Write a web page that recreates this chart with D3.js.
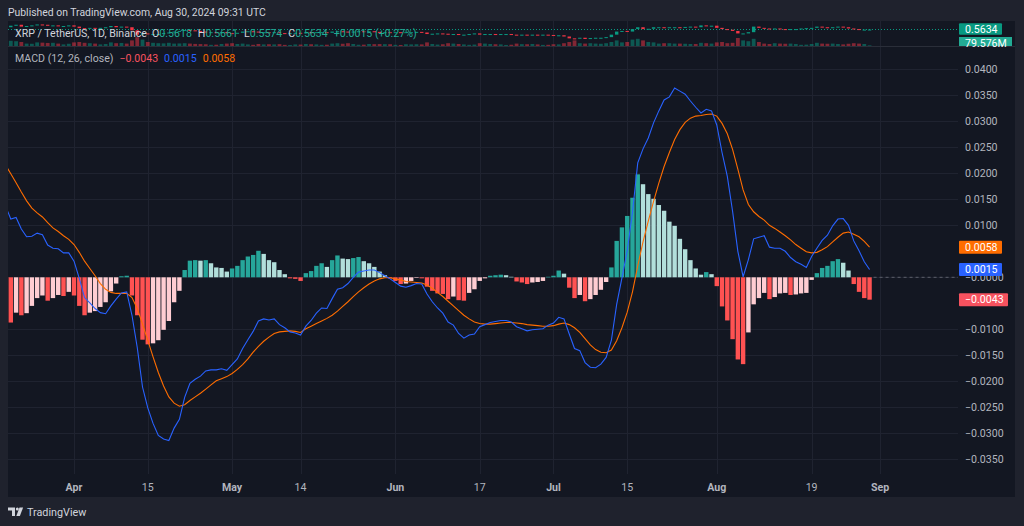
<!DOCTYPE html>
<html><head><meta charset="utf-8">
<script src="https://cdn.jsdelivr.net/npm/d3@7"></script>
<style>html,body{margin:0;padding:0;background:#1f222d;overflow:hidden}svg{display:block}</style>
</head><body><svg id="c" width="1024" height="526"></svg>
<script>
// ---------- DATA ----------
const startDay = "2024-03-19"; // first (partly hidden) daily bar
const histogram = [-0.0079,
-0.0087,-0.0068,-0.0073,-0.0069,-0.0055,-0.0040,-0.0035,-0.0045,-0.0040,-0.0034,
-0.0036,-0.0028,-0.0035,-0.0055,-0.0073,-0.0068,-0.0065,-0.0057,-0.0048,-0.0027,
-0.0012,0.0002,0.0003,-0.0035,-0.0073,-0.0120,-0.0129,-0.0127,-0.0121,-0.0101,
-0.0084,-0.0048,-0.0026,0.0014,0.0032,0.0033,0.0032,0.0033,0.0027,0.0019,
0.0018,0.0011,0.0017,0.0022,0.0033,0.0040,0.0043,0.0051,0.0045,0.0033,
0.0029,0.0014,0.0006,-0.0002,-0.0003,-0.0007,0.0008,0.0012,0.0022,0.0027,
0.0020,0.0033,0.0042,0.0036,0.0035,0.0037,0.0039,0.0031,0.0027,0.0020,
0.0011,0.0004,-0.0002,-0.0007,-0.0013,-0.0012,-0.0007,-0.0001,-0.0002,-0.0018,
-0.0026,-0.0031,-0.0032,-0.0042,-0.0037,-0.0044,-0.0045,-0.0030,-0.0023,-0.0007,
-0.0002,0.0003,0.0004,0.0005,0.0004,0.0001,-0.0008,-0.0010,-0.0013,-0.0010,
-0.0009,-0.0007,0.0001,0.0003,0.0013,0.0007,-0.0020,-0.0040,-0.0034,-0.0046,
-0.0042,-0.0034,-0.0024,-0.0009,0.0019,0.0070,0.0096,0.0118,0.0153,0.0198,
0.0179,0.0160,0.0151,0.0139,0.0128,0.0107,0.0099,0.0074,0.0054,0.0033,
0.0017,0.0005,0.0010,0.0006,-0.0017,-0.0056,-0.0083,-0.0119,-0.0158,-0.0167,
-0.0106,-0.0052,-0.0040,-0.0030,-0.0042,-0.0038,-0.0031,-0.0030,-0.0034,-0.0033,
-0.0031,-0.0030,-0.0005,0.0008,0.0018,0.0022,0.0031,0.0035,0.0028,0.0013,
-0.0013,-0.0028,-0.0040,-0.0043];
const macdLine = [0.0137,
0.0112,0.0115,0.0093,0.0078,0.0079,0.0085,0.0082,0.0062,0.0056,0.0055,
0.0047,0.0047,0.0031,-0.0002,-0.0039,-0.0049,-0.0060,-0.0068,-0.0070,-0.0055,
-0.0042,-0.0030,-0.0028,-0.0073,-0.0135,-0.0211,-0.0251,-0.0281,-0.0304,-0.0311,
-0.0314,-0.0290,-0.0273,-0.0231,-0.0204,-0.0196,-0.0190,-0.0180,-0.0178,-0.0178,
-0.0176,-0.0179,-0.0168,-0.0157,-0.0137,-0.0120,-0.0104,-0.0084,-0.0080,-0.0082,
-0.0080,-0.0091,-0.0097,-0.0105,-0.0107,-0.0111,-0.0094,-0.0083,-0.0069,-0.0059,
-0.0060,-0.0041,-0.0023,-0.0020,-0.0012,0.0000,0.0010,0.0012,0.0014,0.0014,
0.0009,0.0003,-0.0003,-0.0010,-0.0017,-0.0019,-0.0016,-0.0012,-0.0013,-0.0032,
-0.0047,-0.0059,-0.0069,-0.0086,-0.0092,-0.0108,-0.0117,-0.0111,-0.0109,-0.0095,
-0.0091,-0.0087,-0.0085,-0.0083,-0.0083,-0.0086,-0.0095,-0.0099,-0.0103,-0.0101,
-0.0100,-0.0099,-0.0092,-0.0088,-0.0077,-0.0080,-0.0109,-0.0137,-0.0141,-0.0164,
-0.0173,-0.0174,-0.0167,-0.0154,-0.0121,-0.0052,-0.0001,0.0051,0.0125,0.0220,
0.0247,0.0268,0.0297,0.0320,0.0341,0.0347,0.0364,0.0358,0.0352,0.0339,
0.0327,0.0316,0.0323,0.0320,0.0293,0.0240,0.0194,0.0127,0.0050,0.0001,
0.0034,0.0074,0.0077,0.0080,0.0058,0.0056,0.0056,0.0050,0.0038,0.0030,
0.0025,0.0019,0.0040,0.0056,0.0071,0.0081,0.0099,0.0112,0.0113,0.0100,
0.0070,0.0051,0.0030,0.0015];
const signalLine = [0.0216,
0.0199,0.0182,0.0164,0.0147,0.0133,0.0124,0.0116,0.0105,0.0095,0.0088,
0.0080,0.0073,0.0063,0.0048,0.0031,0.0017,0.0003,-0.0012,-0.0023,-0.0029,
-0.0031,-0.0031,-0.0031,-0.0039,-0.0060,-0.0090,-0.0121,-0.0153,-0.0183,-0.0209,
-0.0230,-0.0242,-0.0248,-0.0245,-0.0237,-0.0230,-0.0223,-0.0215,-0.0207,-0.0199,
-0.0195,-0.0191,-0.0185,-0.0177,-0.0168,-0.0157,-0.0144,-0.0133,-0.0123,-0.0115,
-0.0108,-0.0105,-0.0104,-0.0103,-0.0104,-0.0106,-0.0099,-0.0094,-0.0089,-0.0084,
-0.0079,-0.0073,-0.0065,-0.0056,-0.0047,-0.0037,-0.0028,-0.0020,-0.0013,-0.0007,
-0.0003,-0.0001,-0.0001,-0.0003,-0.0005,-0.0008,-0.0009,-0.0010,-0.0011,-0.0015,
-0.0021,-0.0029,-0.0037,-0.0046,-0.0055,-0.0064,-0.0073,-0.0080,-0.0086,-0.0089,
-0.0090,-0.0090,-0.0089,-0.0088,-0.0087,-0.0087,-0.0088,-0.0089,-0.0091,-0.0092,
-0.0093,-0.0094,-0.0094,-0.0093,-0.0090,-0.0088,-0.0091,-0.0097,-0.0106,-0.0118,
-0.0130,-0.0139,-0.0144,-0.0145,-0.0140,-0.0122,-0.0097,-0.0067,-0.0028,0.0022,
0.0068,0.0108,0.0146,0.0181,0.0213,0.0240,0.0265,0.0284,0.0298,0.0306,
0.0310,0.0311,0.0313,0.0314,0.0310,0.0296,0.0276,0.0246,0.0208,0.0168,
0.0140,0.0126,0.0117,0.0110,0.0100,0.0094,0.0087,0.0080,0.0072,0.0063,
0.0056,0.0049,0.0047,0.0048,0.0053,0.0059,0.0068,0.0077,0.0085,0.0087,
0.0083,0.0078,0.0069,0.0058];
// price pane (XRP/USDT daily closes, volume in millions)
const closes = [0.600,
0.625,0.640,0.610,0.620,0.630,0.645,0.640,0.625,0.630,0.615,0.620,0.630,
0.610,0.585,0.580,0.590,0.585,0.590,0.600,0.620,0.600,0.610,0.600,0.550,0.480,0.500,0.490,0.490,0.490,0.505,0.515,0.530,0.540,0.555,0.550,0.540,0.530,0.520,0.520,0.515,0.520,0.505,
0.500,0.510,0.530,0.535,0.530,0.520,0.520,0.510,0.520,0.505,0.500,0.505,0.510,0.500,0.520,0.510,0.520,0.520,0.510,0.530,0.535,0.530,0.525,0.530,0.535,0.530,0.535,0.525,0.520,0.520,0.515,
0.520,0.515,0.520,0.520,0.525,0.515,0.490,0.495,0.500,0.495,0.480,0.490,0.480,0.480,0.490,0.500,0.480,0.490,0.490,0.485,0.490,0.490,0.480,0.475,0.480,0.470,0.480,0.475,0.480,0.475,
0.470,0.470,0.450,0.420,0.415,0.430,0.410,0.425,0.430,0.430,0.440,0.480,0.530,0.540,0.530,0.570,0.600,0.570,0.575,0.600,0.600,0.595,0.600,0.600,0.595,0.605,0.610,0.600,0.630,0.620,0.625,
0.590,0.570,0.560,0.540,0.500,0.500,0.520,0.610,0.590,0.580,0.570,0.580,0.570,0.560,0.570,0.570,0.580,0.585,0.590,0.610,0.600,0.590,0.600,0.610,0.600,0.580,0.570,0.560,0.5618,0.5634];
const volumes = [700,
650,600,500,300,280,450,420,380,400,300,200,280,
450,500,400,350,300,200,250,450,350,380,300,700,1100,800,500,400,350,330,400,300,320,350,300,260,240,220,150,160,250,300,
350,250,300,200,150,250,200,220,200,230,140,130,200,180,250,220,200,150,160,300,350,280,350,250,160,170,250,230,240,230,220,
150,130,220,200,220,200,450,250,180,220,350,300,250,200,150,180,350,300,250,220,200,130,160,300,230,220,250,200,140,150,
220,200,350,500,700,350,300,350,300,280,350,500,700,450,500,800,900,700,500,450,300,350,350,300,300,280,250,250,400,350,300,
450,500,350,400,1000,700,600,900,500,300,250,350,300,280,300,250,150,170,250,400,300,280,300,250,200,280,350,300,250,79.576];
const yTicks = [0.04,0.035,0.03,0.025,0.02,0.015,0.01,0,-0.01,-0.015,-0.02,-0.025,-0.03,-0.035];
const timeTickDates = ["2024-04-01","2024-04-15","2024-05-01","2024-05-14","2024-06-01","2024-06-17","2024-07-01","2024-07-15","2024-08-01","2024-08-19","2024-09-01"];
const timeTickLabels = ["Apr","15","May","14","Jun","17","Jul","15","Aug","19","Sep"];
const legendValues = {hist:"\u22120.0043", macd:"0.0015", signal:"0.0058"};
const ohlc = [["O","0.5618"],["H","0.5661"],["L","0.5574"],["C","0.5634"]];

// ---------- LAYOUT ----------
const FONT = "Roboto, 'Noto Sans', sans-serif";
const svg = d3.select("#c");
const chart = {l:8, r:1015, t:21, b:497};
const pane = {l:8, r:958, t:47, b:474};
const pricePane = {t:21, b:46};
const C = {bg:"#131722", grid:"#1f2330", text:"#b2b5be", light:"#d1d4dc",
  up:"#26a69a", upFall:"#b2dfdb", dn:"#ff5252", dnRise:"#ffcdd2", macd:"#2962ff", sig:"#ff6d00",
  cUp:"#089981", cDn:"#f23645"};

const parse = s => new Date(s + "T00:00:00Z");
const t0 = parse(startDay);
const dates = histogram.map((_, i) => d3.utcDay.offset(t0, i));

const x = d3.scaleUtc().domain([parse("2024-03-20"), parse("2024-09-01")]).range([10.8, 880.1]);
const y = d3.scaleLinear().domain([-0.035, 0.04]).range([459.3, 69.3]);
const yp = d3.scaleLinear().domain([0.40, 0.5634]).range([39.6, 29.5]);
const yv = d3.scaleLinear().domain([0, 1000]).range([46, 38]);

svg.append("rect").attr("width",1024).attr("height",526).attr("fill","#1f222d");
svg.append("rect").attr("x",chart.l).attr("y",chart.t).attr("width",chart.r-chart.l).attr("height",chart.b-chart.t).attr("fill",C.bg);

// header
svg.append("text").attr("x",8).attr("y",12.5).attr("dy","0.35em").attr("fill",C.light).attr("font-family",FONT).attr("font-size",10.4)
  .text("Published on TradingView.com, Aug 30, 2024 09:31 UTC");

const defs = svg.append("defs");
defs.append("clipPath").attr("id","paneClip").append("rect")
  .attr("x",pane.l).attr("y",pane.t).attr("width",pane.r-pane.l).attr("height",pane.b-pane.t);
defs.append("clipPath").attr("id","priceClip").append("rect")
  .attr("x",pane.l).attr("y",pricePane.t).attr("width",pane.r-pane.l).attr("height",pricePane.b-pricePane.t);

// grid
const g = svg.append("g");
g.selectAll(".hg").data(yTicks).join("line")
  .attr("x1",pane.l).attr("x2",pane.r).attr("y1",d=>Math.round(y(d))+0.5).attr("y2",d=>Math.round(y(d))+0.5)
  .attr("stroke",C.grid);
g.selectAll(".vg").data(timeTickDates).join("line")
  .attr("x1",d=>Math.round(x(parse(d)))+0.5).attr("x2",d=>Math.round(x(parse(d)))+0.5)
  .attr("y1",pricePane.t).attr("y2",pane.b).attr("stroke",C.grid);

// pane separator
svg.append("line").attr("x1",chart.l).attr("x2",chart.r).attr("y1",46.5).attr("y2",46.5).attr("stroke","#2a2e39");

// ---- price pane: volume + candles ----
const priceG = svg.append("g").attr("clip-path","url(#priceClip)");
const isUp = i => i === 0 ? true : closes[i] >= closes[i-1];
priceG.selectAll(".vol").data(volumes).join("rect")
  .attr("x",(d,i)=>x(dates[i])-1.9).attr("width",3.8)
  .attr("y",d=>yv(d)).attr("height",d=>yv(0)-yv(d))
  .attr("fill",(d,i)=>isUp(i) ? "rgba(8,153,129,0.5)" : "rgba(242,54,69,0.5)");
priceG.append("line").attr("x1",pane.l).attr("x2",pane.r).attr("y1",yp(closes[closes.length-1])).attr("y2",yp(closes[closes.length-1]))
  .attr("stroke",C.cUp).attr("stroke-dasharray","1,2");
priceG.selectAll(".cdl").data(closes).join("rect")
  .attr("x",(d,i)=>x(dates[i])-1.7).attr("width",3.4)
  .attr("y",(d,i)=>Math.min(yp(d), yp(i?closes[i-1]:d)))
  .attr("height",(d,i)=>Math.max(1, Math.abs(yp(d)-yp(i?closes[i-1]:d))))
  .attr("fill",(d,i)=>isUp(i) ? C.cUp : C.cDn);

// histogram
const plot = svg.append("g").attr("clip-path","url(#paneClip)");
const colorOf = (h, i) => {
  const prev = i > 0 ? histogram[i-1] : h;
  if (h >= 0) return prev < h ? C.up : C.upFall;
  return prev < h ? C.dnRise : C.dn;
};
const bw = 4.4;
plot.selectAll(".bar").data(histogram).join("rect")
  .attr("x",(d,i)=>x(dates[i])-bw/2).attr("width",bw)
  .attr("y",d=>Math.min(y(0),y(d))).attr("height",d=>Math.max(0.6,Math.abs(y(d)-y(0))))
  .attr("fill",(d,i)=>colorOf(d,i));

// zero price line (dashed) after last bar
const lastX = x(dates[dates.length-1]);
svg.append("line").attr("x1",lastX+4).attr("x2",pane.r).attr("y1",y(0)).attr("y2",y(0))
  .attr("stroke","#5d606b").attr("stroke-dasharray","3,3");

// lines
const line = arr => d3.line().x((d,i)=>x(dates[i])).y(d=>y(d))(arr);
plot.append("path").attr("d",line(signalLine)).attr("fill","none").attr("stroke",C.sig).attr("stroke-width",1.1);
plot.append("path").attr("d",line(macdLine)).attr("fill","none").attr("stroke",C.macd).attr("stroke-width",1.1);

// y axis labels
const fmt = v => (v <= 0 ? "\u2212" : "") + Math.abs(v).toFixed(4);
svg.selectAll(".yl").data(yTicks).join("text")
  .attr("x",965).attr("y",d=>y(d)).attr("dy","0.35em")
  .attr("fill",C.text).attr("font-family",FONT).attr("font-size",10.6).text(fmt);

// value boxes
const box = (val, txt, col, w) => {
  const cy = y(val);
  svg.append("rect").attr("x",959).attr("y",cy-6.5).attr("width",w).attr("height",13).attr("fill",col).attr("rx",1);
  svg.append("text").attr("x",965).attr("y",cy).attr("dy","0.35em").attr("fill","#ffffff")
    .attr("font-family",FONT).attr("font-size",10.6).text(txt);
};
box(signalLine[signalLine.length-1], legendValues.signal, C.sig, 43);
box(macdLine[macdLine.length-1], legendValues.macd, C.macd, 43);
box(histogram[histogram.length-1], legendValues.hist, "#f7525f", 49);

// time axis
svg.selectAll(".tl").data(timeTickDates).join("text")
  .attr("x",d=>x(parse(d))).attr("y",487).attr("dy","0.35em").attr("text-anchor","middle")
  .attr("fill",C.text).attr("font-family",FONT).attr("font-size",10.6)
  .attr("font-weight",(d,i)=>isNaN(+timeTickLabels[i]) ? 700 : 400)
  .text((d,i)=>timeTickLabels[i]);

// MACD legend
const lg = svg.append("text").attr("x",15).attr("y",58).attr("dy","0.35em").attr("font-family",FONT).attr("font-size",10.6);
lg.append("tspan").attr("fill",C.text).text("MACD (12, 26, close)");
lg.append("tspan").attr("fill","#f7525f").attr("dx",6).text(legendValues.hist);
lg.append("tspan").attr("fill",C.macd).attr("dx",6).text(legendValues.macd);
lg.append("tspan").attr("fill",C.sig).attr("dx",6).text(legendValues.signal);

// price pane legend
const tl = svg.append("text").attr("x",15).attr("y",33).attr("dy","0.35em").attr("font-family",FONT).attr("font-size",10.6);
tl.append("tspan").attr("fill",C.light).text("XRP / TetherUS, 1D, Binance");
ohlc.forEach(([k,v],i)=>{
  tl.append("tspan").attr("fill",C.light).attr("dx",i===0?5:6).text(k);
  tl.append("tspan").attr("fill","#22ab94").text(v);
});
tl.append("tspan").attr("fill","#22ab94").attr("dx",6).text("+0.0015 (+0.27%)");

// price pane labels
svg.append("rect").attr("x",959).attr("y",23.3).attr("width",43).attr("height",11.5).attr("fill",C.cUp).attr("rx",1);
svg.append("text").attr("x",965).attr("y",29).attr("dy","0.35em").attr("fill","#fff").attr("font-family",FONT).attr("font-size",10.6).text("0.5634");
svg.append("rect").attr("x",959).attr("y",37).attr("width",53).attr("height",9).attr("fill","#22ab94");
svg.append("text").attr("x",965).attr("y",43).attr("dy","0.35em").attr("fill","#fff").attr("font-family",FONT).attr("font-size",10.6)
  .text((volumes[volumes.length-1]).toFixed(3) + "M");

// footer logo
const lf = svg.append("g").attr("fill",C.light);
lf.append("path").attr("d","M8,507.5h7v8.5h-3v-5.5h-4z");
lf.append("circle").attr("cx",17.3).attr("cy",509).attr("r",1.5);
lf.append("path").attr("d","M19.5,507.5h3.6l-3.2,8.5h-3.6z");
svg.append("text").attr("x",27).attr("y",512).attr("dy","0.35em").attr("fill",C.light).attr("font-family",FONT).attr("font-size",10.8).text("TradingView");
</script></body></html>
